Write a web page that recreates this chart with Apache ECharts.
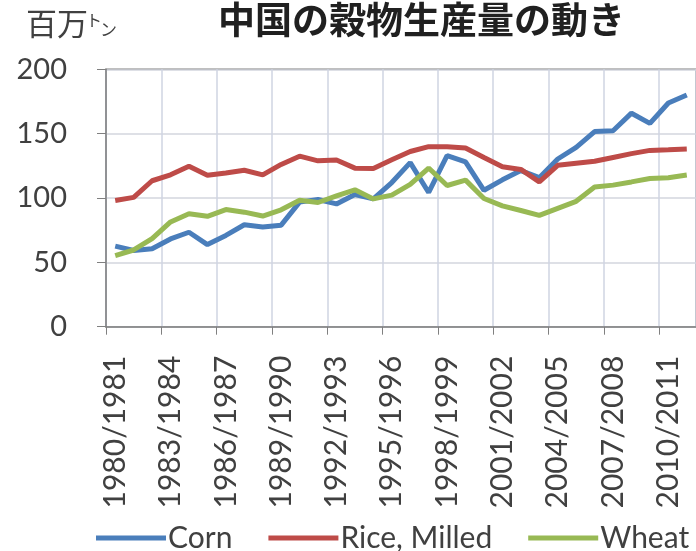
<!DOCTYPE html>
<html>
<head>
<meta charset="utf-8">
<script src="https://cdn.jsdelivr.net/npm/echarts@6/dist/echarts.min.js"></script>
<style>
  html, body { margin: 0; padding: 0; background: #fff; }
  #chart { width: 696px; height: 551px; }
</style>
</head>
<body>
<div id="chart"></div>
<script>
// 年度 (1980/1981 - 2011/2012)
const years = [
  '1980/1981', '1981/1982', '1982/1983', '1983/1984', '1984/1985', '1985/1986',
  '1986/1987', '1987/1988', '1988/1989', '1989/1990', '1990/1991', '1991/1992',
  '1992/1993', '1993/1994', '1994/1995', '1995/1996', '1996/1997', '1997/1998',
  '1998/1999', '1999/2000', '2000/2001', '2001/2002', '2002/2003', '2003/2004',
  '2004/2005', '2005/2006', '2006/2007', '2007/2008', '2008/2009', '2009/2010',
  '2010/2011', '2011/2012'
]
// 百万トン
const corn = [62.6, 59.2, 60.6, 68.2, 73.4, 63.8, 70.9, 79.2, 77.4, 78.9, 96.8, 98.8,
  95.4, 102.7, 99.3, 112.0, 127.5, 104.3, 133.0, 128.1, 106.0, 114.1, 121.3, 115.8,
  130.3, 139.4, 151.6, 152.3, 165.9, 158.0, 173.8, 180.0]
const rice = [98.0, 100.5, 113.4, 118.0, 124.7, 117.7, 119.5, 121.6, 118.0, 126.1, 132.5, 128.9,
  129.5, 123.2, 123.0, 129.7, 136.1, 139.9, 139.9, 138.9, 131.5, 124.3, 122.2, 112.5,
  125.4, 127.0, 128.5, 131.5, 134.5, 137.0, 137.4, 138.0]
const wheat = [55.2, 59.6, 68.5, 81.4, 87.8, 85.8, 91.0, 89.0, 86.0, 90.8, 98.2, 96.5,
  101.6, 106.4, 99.3, 102.2, 110.6, 123.3, 109.7, 113.9, 99.6, 93.9, 90.3, 86.5,
  92.0, 97.4, 108.5, 110.0, 112.5, 115.1, 115.8, 117.8]
const yTicks = [0, 50, 100, 150, 200]

const textColor = '#404040'
const fontFamily = 'Lato, "Noto Sans CJK JP", sans-serif'
const jpFont = '"Noto Sans CJK JP", sans-serif'

const chart = echarts.init(document.getElementById('chart'))
chart.setOption({
  animation: false,
  textStyle: { fontFamily: fontFamily },
  title: {
    text: '中国の穀物生産量の動き',
    left: 213,
    top: -4,
    textStyle: {
      fontFamily: jpFont,
      fontSize: 37,
      fontWeight: 'bold',
      color: '#202020'
    }
  },
  graphic: [
    { type: 'text', left: 26, top: 8, style: { text: '百万', fontSize: 31, fill: textColor, fontFamily: jpFont } },
    { type: 'text', left: 86, top: 12, style: { text: 'ト', fontSize: 16, fill: textColor, fontFamily: jpFont } },
    { type: 'text', left: 100, top: 21, style: { text: 'ン', fontSize: 17, fill: textColor, fontFamily: jpFont } }
  ],
  legend: {
    left: 91,
    top: 518,
    width: 720,
    icon: 'rect',
    itemWidth: 70,
    itemHeight: 5,
    itemGap: 36,
    textStyle: { fontSize: 30, color: textColor, fontFamily: fontFamily, padding: [0, 0, 0, -3] },
    data: ['Corn', 'Rice, Milled', 'Wheat']
  },
  grid: {
    left: 106,
    right: -6.5,
    top: 69.3,
    bottom: 224.3,
    show: true,
    borderColor: '#808080',
    borderWidth: 1.5
  },
  xAxis: {
    type: 'category',
    data: years,
    boundaryGap: true,
    axisLine: { lineStyle: { color: '#808080', width: 1.5 } },
    axisTick: { show: true, interval: 2, length: 8, lineStyle: { color: '#808080' } },
    splitLine: { show: true, interval: 2, lineStyle: { color: '#cfd5e2', width: 1.5 } },
    axisLabel: {
      interval: 2,
      rotate: 90,
      margin: 29,
      fontSize: 30,
      color: textColor
    }
  },
  yAxis: {
    type: 'value',
    min: yTicks[0],
    max: yTicks[yTicks.length - 1],
    interval: 50,
    axisLine: { show: true, lineStyle: { color: '#808080', width: 1.5 } },
    axisTick: { show: true, length: 9, lineStyle: { color: '#808080' } },
    splitLine: { lineStyle: { color: '#d3d6de', width: 1.5 } },
    axisLabel: { margin: 39, fontSize: 29, color: textColor }
  },
  series: [
    {
      name: 'Corn',
      type: 'line',
      data: corn,
      showSymbol: false,
      symbol: 'none',
      lineStyle: { width: 5, color: '#4a7ebb' },
      itemStyle: { color: '#4a7ebb' }
    },
    {
      name: 'Rice, Milled',
      type: 'line',
      data: rice,
      showSymbol: false,
      symbol: 'none',
      lineStyle: { width: 5, color: '#be4b48' },
      itemStyle: { color: '#be4b48' }
    },
    {
      name: 'Wheat',
      type: 'line',
      data: wheat,
      showSymbol: false,
      symbol: 'none',
      lineStyle: { width: 5, color: '#98b954' },
      itemStyle: { color: '#98b954' }
    }
  ]
})
</script>
</body>
</html>
